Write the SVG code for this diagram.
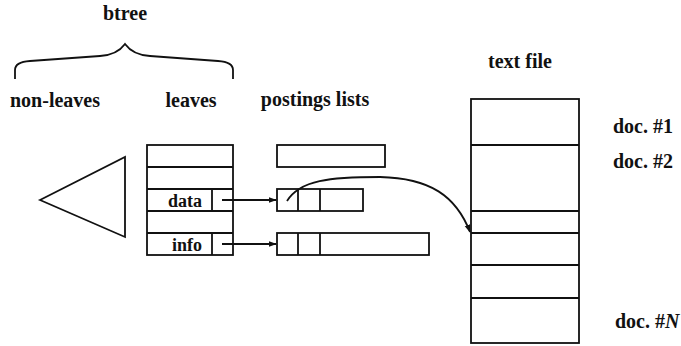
<svg xmlns="http://www.w3.org/2000/svg" width="681" height="346" viewBox="0 0 681 346">
<style>
text{font-family:"Liberation Serif","Times New Roman",serif;font-weight:bold;font-size:20px;fill:#111}
.s{fill:none;stroke:#111;stroke-width:1.8}
.cell{font-size:18px}
</style>
<defs>
<marker id="ah" viewBox="0 0 10 10" refX="9" refY="5" markerWidth="8" markerHeight="8" markerUnits="userSpaceOnUse" orient="auto">
<path d="M0,1.5 L10,5 L0,8.5 Z" fill="#111"/>
</marker>
</defs>
<rect width="681" height="346" fill="#fff"/>
<g id="labels">
<text x="125" y="20" text-anchor="middle">btree</text>
<text x="55" y="107" text-anchor="middle">non-leaves</text>
<text x="191" y="107" text-anchor="middle">leaves</text>
<text x="315" y="106" text-anchor="middle">postings lists</text>
<text x="520" y="68" text-anchor="middle">text file</text>
</g>
<g id="brace">
<path class="s" d="M15,79 L15,70 Q15,62 30,61 L100,56 Q117,55 125,44 Q133,55 150,56 L218,61 Q233,62 233,70 L233,79"/>
</g>
<g id="nonleaves">
<path class="s" d="M40,200 L125,157 L125,237 Z"/>
</g>
<g id="leaves">
<rect class="s" x="147" y="145" width="86" height="110"/>
<path class="s" d="M147,167 H233 M147,189 H233 M147,211 H233 M147,233 H233 M212,189 V211 M212,233 V255"/>
<text class="cell" x="202" y="207" text-anchor="end">data</text>
<text class="cell" x="202" y="251" text-anchor="end">info</text>
</g>
<g id="postings">
<rect class="s" x="277" y="145" width="108" height="22"/>
<rect class="s" x="277" y="189" width="86" height="22"/>
<path class="s" d="M298,189 V211 M320,189 V211"/>
<rect class="s" x="277" y="233" width="152" height="22"/>
<path class="s" d="M298,233 V255 M320,233 V255"/>
</g>
<g id="textfile">
<rect class="s" x="471" y="99" width="108" height="244"/>
<path class="s" d="M471,145 H579 M471,211 H579 M471,233 H579 M471,265 H579 M471,298 H579"/>
<text x="613" y="133">doc. #1</text>
<text x="613" y="168">doc. #2</text>
<text x="615" y="328">doc. #<tspan font-style="italic">N</tspan></text>
</g>
<g id="connectors">
<path class="s" d="M222,200 H276" marker-end="url(#ah)"/>
<path class="s" d="M222,244 H276" marker-end="url(#ah)"/>
<path class="s" d="M287,201 C300,180 330,177 380,177 C430,178 456,196 470,232" marker-end="url(#ah)"/>
</g>
</svg>
